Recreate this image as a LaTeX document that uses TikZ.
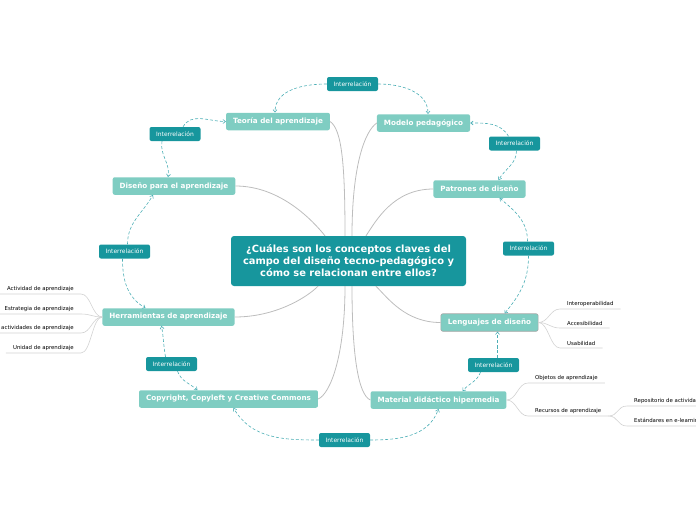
\documentclass[tikz,border=0pt]{standalone}
\usepackage{fontspec}
\setmainfont{DejaVu Sans}
\usetikzlibrary{arrows.meta, calc}

\definecolor{darkteal}{HTML}{17969D}
\definecolor{lightteal}{HTML}{7FCDC2}
\definecolor{reldash}{HTML}{4DAFB6}
\definecolor{linkgray}{HTML}{BDBDBD}
\definecolor{subgray}{HTML}{D2D2D2}

\begin{document}
\begin{tikzpicture}[x=1pt, y=1pt,
  central/.style={fill=darkteal, rounded corners=3pt, text=white, align=center,
    font=\fontsize{9.9}{12}\selectfont\bfseries, minimum width=235pt, minimum height=50pt, inner sep=0pt},
  topic/.style={fill=lightteal, rounded corners=2pt, text=white,
    font=\fontsize{7.2}{8}\selectfont\bfseries, minimum height=17.5pt, inner xsep=7pt, inner ysep=0pt},
  rel/.style={fill=darkteal, rounded corners=2pt, text=white,
    font=\fontsize{6}{7}\selectfont, minimum height=14pt, minimum width=51pt, inner sep=0pt},
  sub/.style={font=\fontsize{5.4}{6}\selectfont, inner xsep=7pt, inner ysep=2pt},
  link/.style={linkgray, line width=0.8pt},
  sublink/.style={subgray, line width=0.6pt},
  reltip/.style={reldash, dash pattern=on 3pt off 2pt, line width=0.6pt,
    -{Straight Barb[length=2.5pt, width=4pt]}}
]
  \useasboundingbox (0,0) rectangle (696,-520);
  \clip (0,0) rectangle (696,-520);

  \node[central] (central) at (348.5,-261)
    {¿Cuáles son los conceptos claves del\\campo del diseño tecno-pedagógico y\\cómo se relacionan entre ellos?};

  % concepts round the question
  \node[topic] (teoria)    at (278,-121.5) {Teoría del aprendizaje};
  \node[topic] (modelo)    at (423.5,-123) {Modelo pedagógico};
  \node[topic] (diseno)    at (174,-186)   {Diseño para el aprendizaje};
  \node[topic] (patrones)  at (479.5,-189) {Patrones de diseño};
  \node[topic] (herram)    at (168.5,-317) {Herramientas de aprendizaje};
  \node[topic, draw=black!35, line width=0.6pt] (lenguajes) at (489.5,-322.5) {Lenguajes de diseño};
  \node[topic] (copy)      at (228.5,-399) {Copyright, Copyleft y Creative Commons};
  \node[topic] (material)  at (438.5,-400) {Material didáctico hipermedia};

  \draw[link] (teoria.east) .. controls +(12,-8) and +(0,70) .. ($(central.north)+(-3.5,0)$);
  \draw[link] (modelo.west) .. controls +(-12,-8) and +(0,70) .. ($(central.north)+(3.5,0)$);
  \draw[link] (diseno.east) .. controls +(45,0) and +(-12,15) .. ($(central.north)+(-23.5,0)$);
  \draw[link] (patrones.west) .. controls +(-40,0) and +(10,15) .. ($(central.north)+(17.5,0)$);
  \draw[link] (herram.east) .. controls +(40,0) and +(-12,-12) .. ($(central.south)+(-30.5,0)$);
  \draw[link] (lenguajes.west) .. controls +(-35,0) and +(12,-12) .. ($(central.south)+(27.5,0)$);
  \draw[link] (copy.east) .. controls +(12,5) and +(0,-70) .. ($(central.south)+(-3.5,0)$);
  \draw[link] (material.west) .. controls +(-12,5) and +(0,-70) .. ($(central.south)+(3.5,0)$);

  % interrelation boxes
  \foreach \n/\x/\y in {1/352.5/84, 2/175/134, 3/514.5/143.5, 4/124.5/251.5,
                        5/528.5/248.5, 6/171.5/364, 7/493.5/365, 8/344.5/440}
    \node[rel] (int\n) at (\x,-\y) {Interrelación};

  \draw[reltip] (int1.west) to[out=180, in=90] ($(teoria.north)+(-3,0)$);
  \draw[reltip] (int1.east) to[out=0, in=90] ($(modelo.north)+(4.5,0)$);
  \draw[reltip] ($(int2.north)+(8,0)$) to[out=60, in=180] (teoria.west);
  \draw[reltip] ($(int2.south)+(-13,0)$) to[out=-100, in=80] ($(diseno.north)+(-6,0)$);
  \draw[reltip] ($(int3.north)+(-6,0)$) to[out=120, in=0] (modelo.east);
  \draw[reltip] ($(int3.south)+(2,0)$) to[out=-90, in=60] ($(patrones.north)+(19,0)$);
  \draw[reltip] ($(int4.north)+(3,0)$) to[out=90, in=-120] ($(diseno.south)+(-21,0)$);
  \draw[reltip] ($(int4.south)+(-2,0)$) to[out=-90, in=150] ($(herram.north)+(-23,0)$);
  \draw[reltip] ($(int5.north)+(-1,0)$) to[out=90, in=-40] ($(patrones.south)+(20,0)$);
  \draw[reltip] (int5.south) to[out=-90, in=50] ($(lenguajes.north)+(15,0)$);
  \draw[reltip] ($(int6.north)+(-6,0)$) to[out=100, in=-80] ($(herram.south)+(-7,0)$);
  \draw[reltip] ($(int6.south)+(6,0)$) to[out=-70, in=140] ($(copy.north)+(-31,0)$);
  \draw[reltip] ($(int7.north)+(4,0)$) to[out=90, in=-90] ($(lenguajes.south)+(8,0)$);
  \draw[reltip] ($(int7.south)+(-13,0)$) to[out=-110, in=50] ($(material.north)+(24,0)$);
  \draw[reltip] (int8.west) to[out=180, in=-60] ($(copy.south)+(5,0)$);
  \draw[reltip] (int8.east) to[out=0, in=-110] (material.south);

  % sub-topics
  \node[sub, anchor=south east] (actividad)  at (81,-294) {Actividad de aprendizaje};
  \node[sub, anchor=south east] (estrategia) at (81,-314) {Estrategia de aprendizaje};
  \node[sub, anchor=south east] (secuencia)  at (81,-333) {actividades de aprendizaje};
  \node[sub, anchor=south east] (unidad)     at (81,-353) {Unidad de aprendizaje};
  \foreach \s in {actividad, estrategia, secuencia, unidad}
    \draw[sublink] (herram.west) .. controls +(-10,0) and +(10,0) .. (\s.south east) -- (\s.south west);

  \node[sub, anchor=south west] (interop) at (560,-309) {Interoperabilidad};
  \node[sub, anchor=south west] (acces)   at (560,-328) {Accesibilidad};
  \node[sub, anchor=south west] (usab)    at (560,-348) {Usabilidad};
  \foreach \s in {interop, acces, usab}
    \draw[sublink] (lenguajes.east) .. controls +(10,0) and +(-10,0) .. (\s.south west) -- (\s.south east);

  \node[sub, anchor=south west] (objetos)  at (528,-383) {Objetos de aprendizaje};
  \node[sub, anchor=south west] (recursos) at (528,-416) {Recursos de aprendizaje};
  \foreach \s in {objetos, recursos}
    \draw[sublink] (material.east) .. controls +(10,0) and +(-10,0) .. (\s.south west) -- (\s.south east);

  \node[sub, anchor=south west] (repositorio) at (627,-406) {Repositorio de actividades};
  \node[sub, anchor=south west] (estandares)  at (627,-426) {Estándares en e-learning};
  \foreach \s in {repositorio, estandares}
    \draw[sublink] (recursos.south east) .. controls +(10,0) and +(-10,0) .. (\s.south west) -- (\s.south east);
\end{tikzpicture}
\end{document}
